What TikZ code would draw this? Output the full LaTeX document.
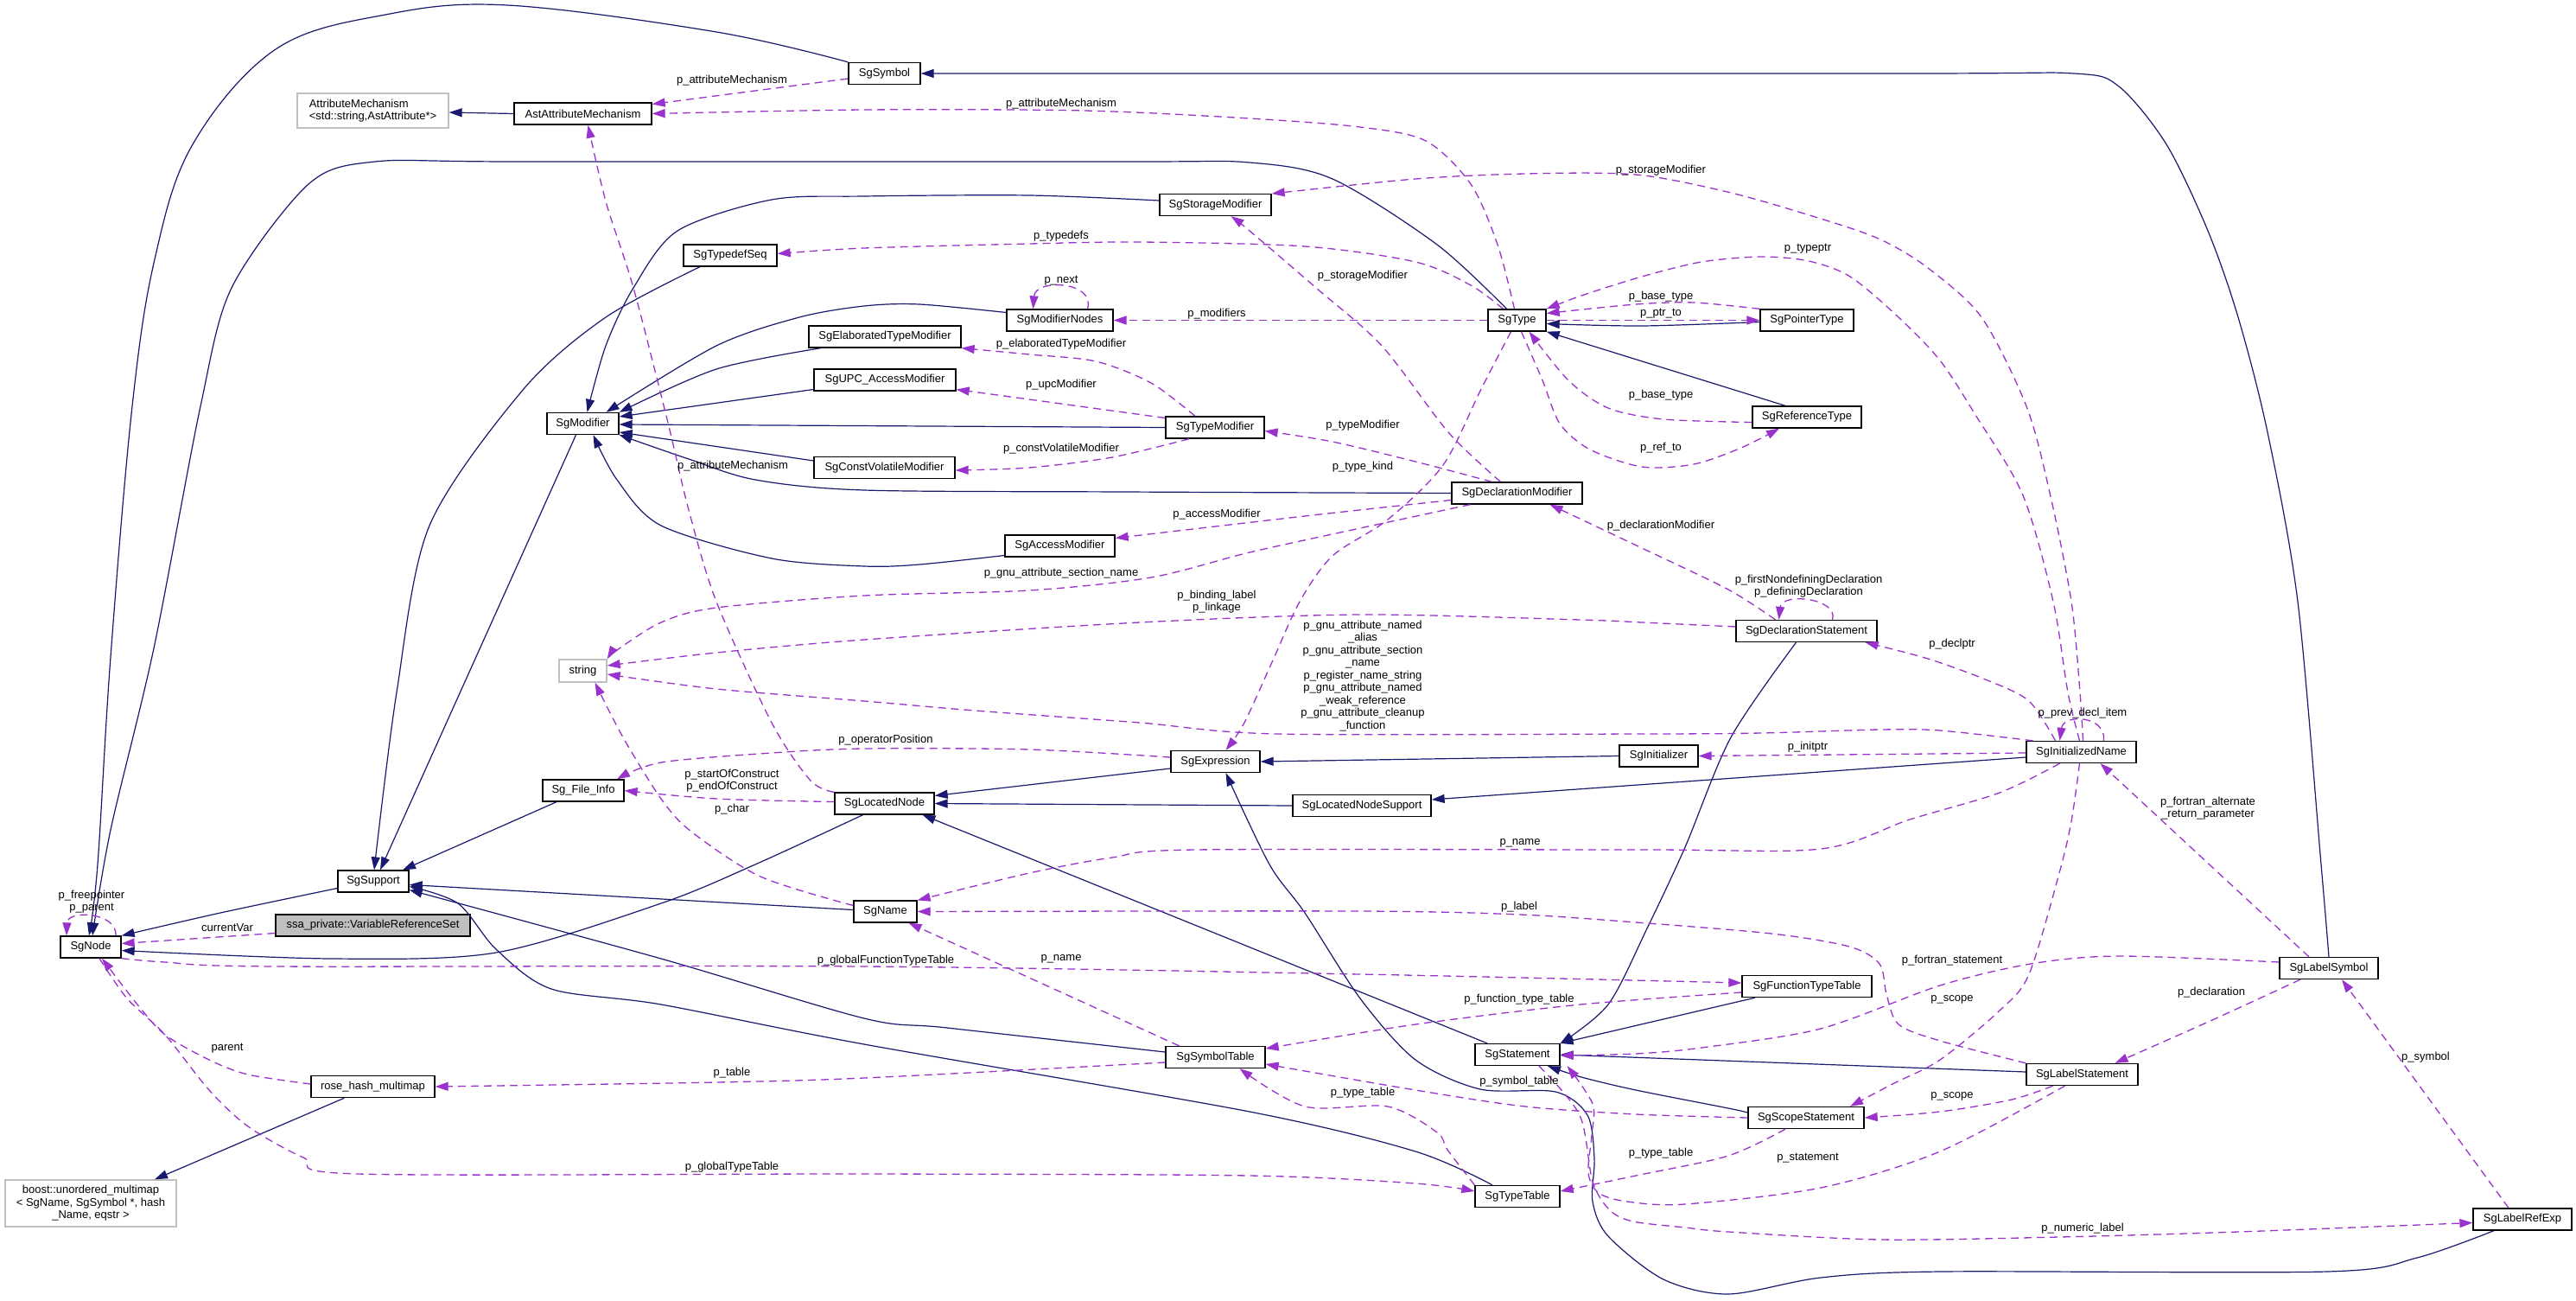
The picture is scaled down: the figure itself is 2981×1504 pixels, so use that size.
\documentclass[tikz,border=0pt]{standalone}
\usepackage{fontspec}
\setmainfont{Liberation Sans}
\usetikzlibrary{arrows.meta}
\definecolor{navyc}{RGB}{25,25,112}
\definecolor{orch}{RGB}{154,50,205}
\definecolor{grayb}{RGB}{191,191,191}
\newcommand{\lab}{\fontsize{13}{14.5}\selectfont}
\begin{document}
\begin{tikzpicture}[x=1pt,y=-1pt,
  cls/.style={draw=black,fill=white,line width=1.3pt,minimum height=25pt,inner sep=0pt,font=\lab},
  ext/.style={draw=grayb,fill=white,line width=1.3pt,minimum height=25pt,inner sep=0pt,font=\lab},
  inh/.style={draw=navyc,line width=1.2pt,line join=round,-{Triangle[length=15pt,width=10pt]}},
  mem/.style={draw=orch,line width=1.3pt,line join=round,dash pattern=on 9pt off 6pt,-{Triangle[length=15pt,width=10pt]}},
  lbl/.style={font=\lab,inner sep=0pt,align=center}]
\fill[white] (0,0) rectangle (2981,1504);
\useasboundingbox (0,0) rectangle (2981,1504);
% nodes
\node[cls,minimum width=83pt] (SgSymbol) at (1023.5,85) {SgSymbol};
\node[ext,minimum width=175pt,minimum height=40pt,align=left] (AttrMech) at (431.5,128) {AttributeMechanism\\<std::string,AstAttribute*>};
\node[cls,minimum width=159pt] (AstAttr) at (674.5,131.5) {AstAttributeMechanism};
\node[cls,minimum width=108pt] (TypedefSeq) at (845,295.5) {SgTypedefSeq};
\node[cls,minimum width=83pt] (Modifier) at (674.5,490) {SgModifier};
\node[cls,minimum width=176pt] (ElabMod) at (1024,389.5) {SgElaboratedTypeModifier};
\node[cls,minimum width=164pt] (UPCMod) at (1024,439.5) {SgUPC\_AccessModifier};
\node[cls,minimum width=163pt] (CVMod) at (1023.5,541) {SgConstVolatileModifier};
\node[cls,minimum width=129pt] (StorMod) at (1406.5,237) {SgStorageModifier};
\node[cls,minimum width=123pt] (ModNodes) at (1226.5,370.5) {SgModifierNodes};
\node[cls,minimum width=67pt] (Type) at (1755.5,370.5) {SgType};
\node[cls,minimum width=108pt] (PtrType) at (2091,370.5) {SgPointerType};
\node[cls,minimum width=126pt] (RefType) at (2091,482.5) {SgReferenceType};
\node[cls,minimum width=114pt] (TypeMod) at (1406,494.5) {SgTypeModifier};
\node[cls,minimum width=151pt] (DeclMod) at (1755.5,570.5) {SgDeclarationModifier};
\node[cls,minimum width=127pt] (AccMod) at (1226.5,631.5) {SgAccessModifier};
\node[ext,minimum width=55pt,minimum height=26pt] (string) at (674.5,776) {string};
\node[cls,minimum width=163pt] (DeclStmt) at (2090.5,730) {SgDeclarationStatement};
\node[cls,minimum width=127pt] (InitName) at (2408.5,870) {SgInitializedName};
\node[cls,minimum width=91pt] (Initializer) at (1919.5,874.5) {SgInitializer};
\node[cls,minimum width=103pt] (Expr) at (1406.5,881) {SgExpression};
\node[cls,minimum width=94pt] (FileInfo) at (675,914.5) {Sg\_File\_Info};
\node[cls,minimum width=115pt] (LocNode) at (1023.5,929.5) {SgLocatedNode};
\node[cls,minimum width=160pt] (LocSupp) at (1576,932) {SgLocatedNodeSupport};
\node[cls,minimum width=82pt] (Support) at (432,1019.5) {SgSupport};
\node[cls,minimum width=70pt] (Node) at (105,1095.5) {SgNode};
\node[cls,fill=grayb,minimum width=225pt] (VarRef) at (431.5,1070.5) {ssa\_private::VariableReferenceSet};
\node[cls,minimum width=73pt] (Name) at (1024.5,1054.5) {SgName};
\node[cls,minimum width=150pt] (FTT) at (2091,1141) {SgFunctionTypeTable};
\node[cls,minimum width=114pt] (LabelSym) at (2695,1120) {SgLabelSymbol};
\node[cls,minimum width=115pt] (SymTab) at (1406.5,1223) {SgSymbolTable};
\node[cls,minimum width=98pt] (Stmt) at (1756,1220) {SgStatement};
\node[cls,minimum width=129pt] (LabelStmt) at (2409.5,1243) {SgLabelStatement};
\node[cls,minimum width=143pt] (RoseHash) at (431.5,1257) {rose\_hash\_multimap};
\node[cls,minimum width=134pt] (ScopeStmt) at (2090,1293) {SgScopeStatement};
\node[cls,minimum width=98pt] (TypeTab) at (1756,1384) {SgTypeTable};
\node[ext,minimum width=198pt,minimum height=54pt,align=center] (Boost) at (105,1392) {boost::unordered\_multimap\\< SgName, SgSymbol *, hash\\\_Name, eqstr >};
\node[cls,minimum width=114pt] (LabelRef) at (2919,1410.5) {SgLabelRefExp};
% inheritance edges
\draw[inh] plot[smooth,tension=0.6] coordinates {(SgSymbol.north west) (829,37) (587,6) (446,17) (319,57) (223,167) (179,300) (153,470) (128,760) (113,1000) ([xshift=-2pt]Node.north)};
\draw[inh] plot[smooth,tension=0.5] coordinates {([xshift=-12pt]Type.north) (1663,283) (1542,207) (1446,188) (1300,187) (600,187) (434,187) (357,213) (268,333) (232,470) (178,750) (128,960) ([xshift=2pt]Node.north)};
\draw[inh] plot[smooth] coordinates {([yshift=-8pt]Support.west) (255,1056) (Node.north east)};
\draw[inh] plot[smooth] coordinates {([xshift=-25pt]LocNode.south) (874,1000) (765,1045) (574,1102) (383,1109) ([yshift=-4pt]Node.east)};
\draw[inh] ([xshift=-8pt]Modifier.south) -- ([xshift=8pt]Support.north);
\draw[inh] plot[smooth] coordinates {([xshift=-35pt]TypedefSeq.south) (701,367) (606,450) (497,608) (459,801) ([xshift=1pt]Support.north)};
\draw[inh] ([xshift=-31pt]FileInfo.south) -- ([xshift=34pt]Support.north);
\draw[inh] ([yshift=2pt]Name.west) -- ([yshift=-4pt]Support.east);
\draw[inh] plot[smooth] coordinates {([yshift=6pt]SymTab.west) (1096,1189) (1000,1178) (765,1109) ([yshift=-10pt]Support.east)};
\draw[inh] plot[smooth] coordinates {([xshift=-29pt]TypeTab.north) (1638,1332) (1446,1286) (1000,1208) (765,1162) (638,1144) (574,1098) (530,1045) ([yshift=-6pt]Support.east)};
\draw[inh] ([yshift=-8pt]Expr.west) -- ([yshift=9pt]LocNode.east);
\draw[inh] (LocSupp.west) -- (LocNode.east);
\draw[inh] ([xshift=-35pt]Stmt.north) -- ([xshift=44pt]LocNode.south);
\draw[inh] (Initializer.west) -- (Expr.east);
\draw[inh] plot[smooth,tension=0.5] coordinates {([xshift=-33pt]LabelRef.south) (2797,1455) (2693,1471) (2245,1471) (2107,1478) (2000,1497) (1925,1480) (1861,1430) (1843,1390) (1845,1340) (1837,1290) (1800,1263) (1713,1260) (1638,1226) (1574,1155) (1510,1056) (1469,1000) ([xshift=12pt]Expr.south)};
\draw[inh] ([yshift=-6pt]InitName.west) -- ([yshift=7pt]LocSupp.east);
\draw[inh] plot[smooth] coordinates {([xshift=-12pt]DeclStmt.south) (2003,853) (1950,980) (1906,1074) (1861,1162) (Stmt.north east)};
\draw[inh] ([xshift=-60pt]FTT.south) -- (Stmt.north east);
\draw[inh] ([yshift=3pt]LabelStmt.west) -- (Stmt.east);
\draw[inh] plot[smooth] coordinates {([yshift=6pt]ScopeStmt.west) (2000,1282) (1893,1261) (1830,1246) ([xshift=35pt]Stmt.south)};
\draw[inh] plot[smooth,tension=0.5] coordinates {(LabelSym.north) (2686,1000) (2659,696) (2624,500) (2590,367) (2555,267) (2507,167) (2452,100) (2400,85) (2200,85) (SgSymbol.east)};
\draw[inh] plot[smooth] coordinates {([yshift=-2pt]PtrType.west) (1900,377) ([yshift=-4pt]Type.east)};
\draw[inh] ([xshift=-25pt]RefType.north) -- (Type.south east);
\draw[inh] plot[smooth] coordinates {([yshift=5pt]StorMod.west) (1191,226) (1000,227) (893,231) (784,267) (733,333) (701,400) ([xshift=5pt]Modifier.north)};
\draw[inh] plot[smooth] coordinates {([yshift=9pt]ModNodes.west) (1064,352) (1000,354) (925,367) (829,400) ([xshift=27pt]Modifier.north)};
\draw[inh] plot[smooth] coordinates {([xshift=-74pt]ElabMod.south) (829,427) (Modifier.north east)};
\draw[inh] ([yshift=-11pt]UPCMod.west) -- ([yshift=8pt]Modifier.east);
\draw[inh] (TypeMod.west) -- ([yshift=-1pt]Modifier.east);
\draw[inh] ([yshift=8pt]CVMod.west) -- ([yshift=-10pt]Modifier.east);
\draw[inh] plot[smooth] coordinates {(DeclMod.west) (1300,569) (1000,567) (874,555) (797,531) (Modifier.south east)};
\draw[inh] plot[smooth] coordinates {([yshift=-11pt]AccMod.west) (1064,653) (1000,655) (893,646) (765,608) (714,555) ([xshift=12pt]Modifier.south)};
\draw[inh] (AstAttr.west) -- ([yshift=-2pt]AttrMech.east);
\draw[inh] ([xshift=-33pt]RoseHash.south) -- ([xshift=74pt]Boost.north);
% member edges
\draw[mem] ([yshift=-6pt]SgSymbol.west) -- ([yshift=11pt]AstAttr.east);
\draw[mem] plot[smooth] coordinates {([xshift=-3pt]Type.north) (1733,283) (1702,213) (1650,163) (1574,147) (1446,137) (1255,128) (1000,127) (AstAttr.east)};
\draw[mem] plot[smooth] coordinates {(LocNode.north west) (938,903) (893,836) (829,696) (797,590) (772,485) (733,333) (701,233) ([xshift=6pt]AstAttr.south)};
\draw[mem] plot[smooth] coordinates {([xshift=2pt]InitName.north) (2407,801) (2397,696) (2372,570) (2345,470) (2293,367) (2231,310) (2176,277) (2107,253) (2003,223) (1893,202) (1765,201) (1638,207) ([yshift=13pt]StorMod.east)};
\draw[mem] plot[smooth] coordinates {([xshift=-16pt]Type.north) (1702,330) (1638,303) (1510,285) (1319,280) (1191,282) (1000,287) ([yshift=2pt]TypedefSeq.east)};
\draw[mem] plot[smooth] coordinates {([xshift=-19pt]DeclMod.north) (1676,500) (1599,400) (1523,333) (1446,267) ([xshift=18pt]StorMod.south)};
\draw[mem] ([xshift=32pt]ModNodes.north) .. controls (1268,325) and (1198,322) .. ([xshift=-31pt]ModNodes.north);
\draw[mem] (Type.west) -- (ModNodes.east);
\draw[mem] plot[smooth] coordinates {([xshift=-2pt]InitName.north) (2393,801) (2376,696) (2341,573) (2286,480) (2245,417) (2197,367) (2141,320) (2093,302) (2038,297) (1969,303) (1900,320) (1830,342) (Type.north east)};
\draw[mem] plot[smooth] coordinates {(PtrType.north west) (1960,350) (1893,352) ([yshift=8pt]Type.east)};
\draw[mem] (Type.east) -- (PtrType.west);
\draw[mem] plot[smooth] coordinates {([yshift=-6pt]RefType.west) (1925,485) (1861,472) (1815,440) ([xshift=14pt]Type.south)};
\draw[mem] plot[smooth] coordinates {([xshift=5pt]Type.south) (1785,440) (1805,490) (1840,520) (1900,540) (1960,537) (2015,518) ([xshift=-32pt]RefType.south)};
\draw[mem] plot[smooth] coordinates {([xshift=-23pt]TypeMod.north) (1332,443) (1268,418) (1191,410) (ElabMod.south east)};
\draw[mem] ([yshift=11pt]TypeMod.west) -- ([yshift=-11pt]UPCMod.east);
\draw[mem] plot[smooth] coordinates {([xshift=-30pt]TypeMod.south) (1287,529) (1191,541) ([yshift=-3pt]CVMod.east)};
\draw[mem] plot[smooth] coordinates {([xshift=-29pt]DeclMod.north) (1638,534) (1542,511) ([yshift=-4pt]TypeMod.east)};
\draw[mem] plot[smooth] coordinates {([xshift=-7pt]Type.south) (1714,450) (1670,538) (1606,601) (1542,643) (1504,696) (1472,766) (1440,836) ([xshift=12pt]Expr.north)};
\draw[mem] plot[smooth] coordinates {([yshift=-8pt]DeclMod.west) (1510,597) ([yshift=9pt]AccMod.east)};
\draw[mem] plot[smooth] coordinates {([xshift=-54pt]DeclMod.south) (1574,611) (1446,639) (1332,668) (1191,683) (1000,689) (829,703) (765,720) (714,752) (string.north east)};
\draw[mem] plot[smooth] coordinates {([yshift=5pt]DeclStmt.west) (1900,720) (1829,717) (1574,711) (1319,720) (1000,740) (829,755) ([yshift=6pt]string.east)};
\draw[mem] plot[smooth] coordinates {([xshift=-56pt]InitName.north) (2245,845) (2176,844) (2038,848) (1900,849) (1478,849) (1319,836) (1128,822) (1000,811) (829,797) ([yshift=-4pt]string.east)};
\draw[mem] plot[smooth] coordinates {([xshift=-36pt]DeclStmt.north) (2000,682) (1900,634) ([xshift=38pt]DeclMod.south)};
\draw[mem] ([xshift=30pt]DeclStmt.north) .. controls (2128,692) and (2062,685) .. ([xshift=-32pt]DeclStmt.north);
\draw[mem] plot[smooth] coordinates {([xshift=-30pt]InitName.north) (2348,811) (2300,787) (2231,762) ([xshift=68pt]DeclStmt.south)};
\draw[mem] ([xshift=26pt]InitName.north) .. controls (2438,828) and (2388,825) .. ([xshift=-25pt]InitName.north);
\draw[mem] ([yshift=-1pt]InitName.west) -- (Initializer.east);
\draw[mem] plot[smooth] coordinates {([yshift=5pt]Expr.west) (1191,867) (1000,866) (893,871) (765,882) ([xshift=39pt]FileInfo.north)};
\draw[mem] plot[smooth] coordinates {([yshift=2pt]LocNode.west) (829,924) (FileInfo.east)};
\draw[mem] plot[smooth] coordinates {([yshift=7pt]Name.west) (880,1014) (800,962) (765,924) (721,853) ([xshift=14pt]string.south)};
\draw[mem] plot[smooth] coordinates {([xshift=-25pt]InitName.south) (2314,917) (2210,948) (2107,982) (1900,983) (1383,983) (1287,992) (1191,1010) (Name.north east)};
\draw[mem] ([xshift=-23pt]LabelSym.north) -- ([xshift=22pt]InitName.south);
\draw[mem] plot[smooth] coordinates {(LabelStmt.north west) (2245,1204) (2197,1185) (2183,1150) (2175,1115) (2140,1095) (2050,1080) (1893,1067) (1759,1058) (1574,1054) (Name.east)};
\draw[mem] plot[smooth] coordinates {(Node.south east) (191,1113) (319,1118) (1000,1118) (1574,1127) ([yshift=4pt]FTT.west)};
\draw[mem] ([xshift=-42pt]SymTab.north) -- ([xshift=27pt]Name.south);
\draw[mem] plot[smooth] coordinates {([yshift=-7pt]FTT.west) (1829,1162) (1638,1185) ([yshift=10pt]SymTab.east)};
\draw[mem] plot[smooth] coordinates {([yshift=7pt]LabelSym.west) (2452,1106) (2350,1115) (2245,1140) (2107,1190) (1969,1212) (1893,1219) ([yshift=-1pt]Stmt.east)};
\draw[mem] plot[smooth] coordinates {([xshift=-2pt]InitName.south) (2397,950) (2383,1010) (2348,1127) (2314,1169) (2245,1226) (2190,1254) ([xshift=51pt]ScopeStmt.north)};
\draw[mem] plot[smooth] coordinates {([xshift=-33pt]LabelSym.south) (2560,1180) ([xshift=38pt]LabelStmt.north)};
\draw[mem] ([xshift=-16pt]LabelRef.north) -- ([xshift=15pt]LabelSym.south);
\draw[mem] plot[smooth] coordinates {([xshift=-34pt]LabelStmt.south) (2328,1272) (2245,1286) (ScopeStmt.east)};
\draw[mem] plot[smooth] coordinates {(ScopeStmt.west) (1893,1289) (1765,1280) (1638,1261) ([yshift=-8pt]SymTab.east)};
\draw[mem] plot[smooth] coordinates {(TypeTab.north west) (1675,1330) (1663,1310) (1606,1280) (1510,1280) ([xshift=28pt]SymTab.south)};
\draw[mem] plot[smooth] coordinates {([xshift=-24pt]ScopeStmt.south) (2000,1337) (1893,1360) ([yshift=6pt]TypeTab.east)};
\draw[mem] plot[smooth] coordinates {([xshift=-20pt]LabelStmt.south) (2245,1332) (2107,1374) (1950,1393) (1883,1390) (1850,1380) (1838,1357) (1842,1313) (1843,1277) ([xshift=8pt]Stmt.south east)};
\draw[mem] plot[smooth] coordinates {([xshift=25pt]Stmt.south) (1828,1290) (1843,1367) (1863,1400) (1890,1413) (1950,1420) (2000,1425) (2176,1434) (2383,1431) (2590,1425) ([yshift=-4pt]LabelRef.west)};
\draw[mem] plot[smooth] coordinates {([yshift=-6pt]SymTab.west) (1000,1247) (829,1252) (RoseHash.east)};
\draw[mem] plot[smooth] coordinates {([xshift=10pt]Node.south) (147,1155) (191,1197) (242,1261) (287,1303) (351,1339) (415,1358) (1000,1358) (1446,1360) (1638,1369) ([yshift=6pt]TypeTab.west)};
\draw[mem] plot[smooth] coordinates {([yshift=3pt]RoseHash.west) (287,1243) (242,1226) (191,1197) (159,1162) ([xshift=13pt]Node.south)};
\draw[mem] ([yshift=-9pt]VarRef.west) -- ([yshift=4pt]Node.east);
\draw[mem] ([xshift=29pt]Node.north) .. controls (136,1055) and (78,1052) .. ([xshift=-28pt]Node.north);
% labels
\node[lbl] (l1) at (847,93) {p\_attributeMechanism};
\node[lbl] (l2) at (1228,120) {p\_attributeMechanism};
\node[lbl] (l3) at (848,539) {p\_attributeMechanism};
\node[lbl] (l4) at (1922,197) {p\_storageModifier};
\node[lbl] (l5) at (1228,273) {p\_typedefs};
\node[lbl] (l6) at (1577,319) {p\_storageModifier};
\node[lbl] (l7) at (1228,325) {p\_next};
\node[lbl] (l8) at (1408,363) {p\_modifiers};
\node[lbl] (l9) at (2092,288) {p\_typeptr};
\node[lbl] (l10) at (1922,343) {p\_base\_type};
\node[lbl] (l11) at (1922,363) {p\_ptr\_to};
\node[lbl] (l12) at (1922,457) {p\_base\_type};
\node[lbl] (l13) at (1922,518) {p\_ref\_to};
\node[lbl] (l14) at (1228,398) {p\_elaboratedTypeModifier};
\node[lbl] (l15) at (1228,445) {p\_upcModifier};
\node[lbl] (l16) at (1228,519) {p\_constVolatileModifier};
\node[lbl] (l17) at (1577,492) {p\_typeModifier};
\node[lbl] (l18) at (1577,540) {p\_type\_kind};
\node[lbl] (l19) at (1408,595) {p\_accessModifier};
\node[lbl] (l20) at (1228,663) {p\_gnu\_attribute\_section\_name};
\node[lbl] (l21) at (1408,696) {p\_binding\_label\\p\_linkage};
\node[lbl] (l22) at (1577,782) {p\_gnu\_attribute\_named\\\_alias\\p\_gnu\_attribute\_section\\\_name\\p\_register\_name\_string\\p\_gnu\_attribute\_named\\\_weak\_reference\\p\_gnu\_attribute\_cleanup\\\_function};
\node[lbl] (l23) at (1922,608) {p\_declarationModifier};
\node[lbl] (l24) at (2093,678) {p\_firstNondefiningDeclaration\\p\_definingDeclaration};
\node[lbl] (l25) at (2259,745) {p\_declptr};
\node[lbl] (l26) at (2410,825) {p\_prev\_decl\_item};
\node[lbl] (l27) at (2092,864) {p\_initptr};
\node[lbl] (l28) at (1025,856) {p\_operatorPosition};
\node[lbl] (l29) at (847,903) {p\_startOfConstruct\\p\_endOfConstruct};
\node[lbl] (l30) at (847,936) {p\_char};
\node[lbl] (l31) at (1759,975) {p\_name};
\node[lbl] (l32) at (2555,935) {p\_fortran\_alternate\\\_return\_parameter};
\node[lbl] (l33) at (1758,1049) {p\_label};
\node[lbl] (l34) at (1025,1111) {p\_globalFunctionTypeTable};
\node[lbl] (l35) at (1228,1109) {p\_name};
\node[lbl] (l36) at (1758,1156) {p\_function\_type\_table};
\node[lbl] (l37) at (2259,1111) {p\_fortran\_statement};
\node[lbl] (l38) at (2259,1156) {p\_scope};
\node[lbl] (l39) at (2559,1148) {p\_declaration};
\node[lbl] (l40) at (2807,1223) {p\_symbol};
\node[lbl] (l41) at (2259,1268) {p\_scope};
\node[lbl] (l42) at (1758,1251) {p\_symbol\_table};
\node[lbl] (l43) at (1577,1264) {p\_type\_table};
\node[lbl] (l44) at (1922,1334) {p\_type\_table};
\node[lbl] (l45) at (2092,1340) {p\_statement};
\node[lbl] (l46) at (2410,1421) {p\_numeric\_label};
\node[lbl] (l47) at (847,1241) {p\_table};
\node[lbl] (l48) at (847,1350) {p\_globalTypeTable};
\node[lbl] (l49) at (263,1213) {parent};
\node[lbl] (l50) at (263,1073) {currentVar};
\node[lbl] (l51) at (106,1043) {p\_freepointer\\p\_parent};
\end{tikzpicture}
\end{document}
